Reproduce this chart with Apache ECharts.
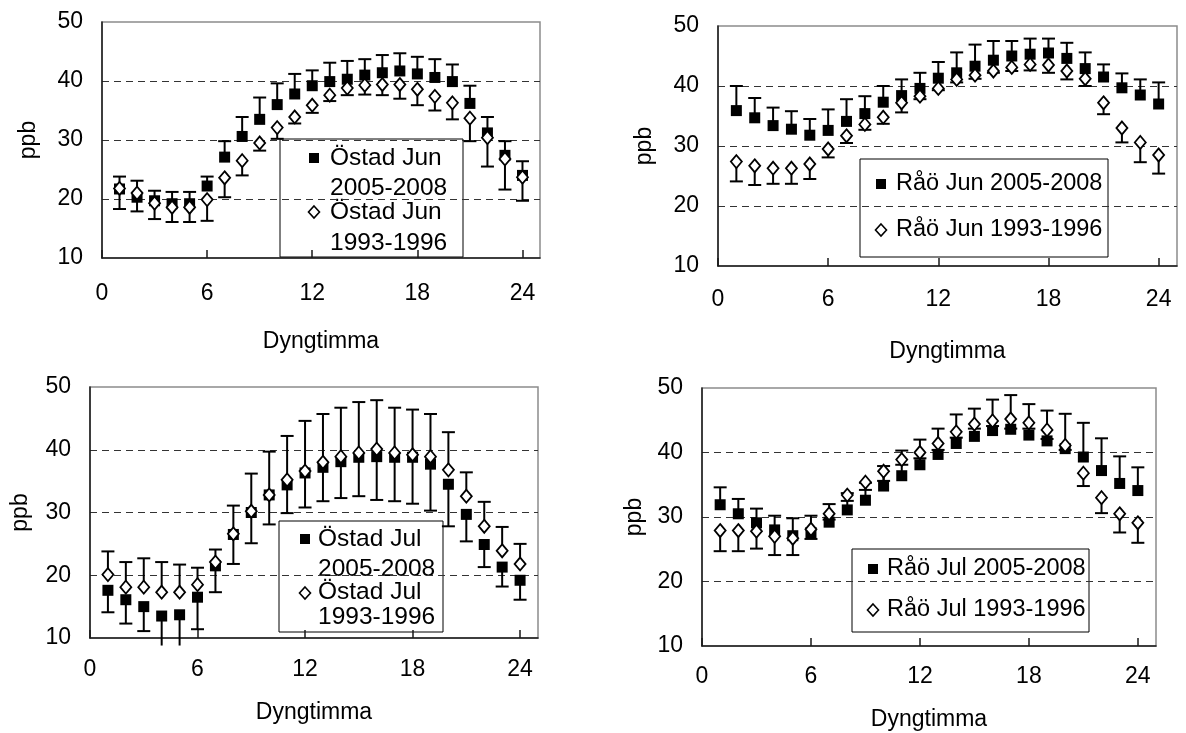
<!DOCTYPE html>
<html>
<head>
<meta charset="utf-8">
<script src="https://cdn.jsdelivr.net/npm/echarts@6/dist/echarts.min.js"></script>
<style>
  html, body { margin: 0; padding: 0; background: #fff; }
  #chart { width: 1186px; height: 733px; }
</style>
</head>
<body>
<div id="chart"></div>
<script>
// Hour of day (1..24) and axis tick labels
const hours = [1, 2, 3, 4, 5, 6, 7, 8, 9, 10, 11, 12, 13, 14, 15, 16, 17, 18, 19, 20, 21, 22, 23, 24];
const xTicks = [0, 6, 12, 18, 24];
const yTicks = [10, 20, 30, 40, 50];

// Östad, June: hourly means (ppb) and error-bar ends
const ostadJun0508 = [21.7, 20.3, 19.7, 19.2, 19.2, 22.2, 27.1, 30.6, 33.5, 36.0, 37.8, 39.2, 39.9, 40.3, 41.0, 41.4, 41.7, 41.2, 40.6, 39.9, 36.2, 31.2, 27.4, 24.0];
const ostadJun0508Hi = [23.8, 23.1, 21.4, 21.2, 21.2, 23.8, 29.8, 33.9, 37.2, 39.6, 41.2, 41.8, 43.1, 43.4, 43.7, 44.4, 44.7, 44.1, 43.7, 42.8, 39.2, 33.9, 29.8, 26.4];
const ostadJun9396 = [21.8, 21.0, 19.3, 18.6, 18.6, 19.9, 23.6, 26.5, 29.5, 32.1, 33.9, 35.9, 37.6, 38.8, 39.3, 39.4, 39.4, 38.6, 37.4, 36.3, 33.7, 30.4, 26.8, 23.7];
const ostadJun9396Lo = [18.3, 17.9, 16.6, 16.1, 16.1, 16.3, 20.3, 24.0, 28.2, 30.2, 32.8, 34.6, 36.6, 37.6, 37.7, 37.6, 37.0, 35.9, 35.0, 33.5, 29.8, 25.5, 21.6, 19.7];

// Råö, June
const raoJun0508 = [35.9, 34.7, 33.4, 32.8, 31.8, 32.6, 34.1, 35.4, 37.3, 38.4, 39.6, 41.3, 42.2, 43.3, 44.3, 45.0, 45.3, 45.5, 44.6, 42.9, 41.5, 39.7, 38.5, 37.0];
const raoJun0508Hi = [40.0, 38.0, 36.4, 35.8, 34.5, 36.1, 37.8, 38.3, 40.0, 41.1, 42.2, 44.0, 45.6, 46.9, 47.5, 47.5, 47.9, 47.9, 47.2, 45.6, 43.6, 42.1, 41.1, 40.6];
const raoJun9396 = [27.4, 26.7, 26.3, 26.3, 27.0, 29.5, 31.7, 33.6, 34.8, 37.2, 38.3, 39.6, 41.1, 41.8, 42.5, 43.1, 43.6, 43.5, 42.5, 41.2, 37.2, 33.0, 30.6, 28.5];
const raoJun9396Lo = [24.1, 23.5, 23.7, 23.7, 24.5, 28.1, 30.5, 32.7, 33.7, 35.6, 37.8, 39.3, 40.6, 41.2, 42.2, 42.5, 42.6, 42.2, 41.1, 40.0, 35.3, 30.6, 27.3, 25.4];

// Östad, July
const ostadJul0508 = [17.6, 16.1, 15.0, 13.5, 13.7, 16.5, 21.5, 26.5, 30.0, 32.8, 34.4, 36.3, 37.2, 38.1, 38.8, 38.9, 38.8, 38.8, 37.7, 34.5, 29.7, 24.9, 21.3, 19.2];
const ostadJul0508Lo = [14.1, 12.3, 11.1, 8.8, 8.8, 11.4, 17.3, 21.8, 25.1, 28.1, 29.9, 30.8, 31.8, 32.3, 32.6, 32.0, 31.8, 31.4, 30.3, 27.8, 25.4, 21.3, 18.2, 16.1];
const ostadJul9396 = [20.1, 18.1, 18.1, 17.3, 17.3, 18.5, 22.1, 26.6, 30.2, 32.8, 35.2, 36.6, 38.0, 38.9, 39.5, 40.1, 39.5, 39.2, 38.9, 36.8, 32.6, 27.8, 23.9, 21.8];
const ostadJul9396Hi = [23.8, 22.1, 22.7, 22.1, 21.7, 21.2, 24.1, 31.1, 36.2, 39.7, 42.2, 44.6, 45.7, 46.7, 47.6, 47.9, 46.7, 46.4, 45.7, 42.8, 36.4, 31.7, 27.7, 25.0];

// Råö, July
const raoJul0508 = [31.9, 30.5, 29.1, 28.0, 27.1, 27.6, 29.2, 31.1, 32.6, 34.8, 36.4, 38.1, 39.7, 41.4, 42.5, 43.4, 43.6, 42.7, 41.8, 40.6, 39.3, 37.2, 35.2, 34.1];
const raoJul0508Hi = [34.6, 32.8, 31.3, 30.2, 29.8, 30.2, 32.0, 33.7, 35.3, 37.9, 40.3, 42.0, 43.7, 45.9, 46.8, 48.2, 48.9, 47.5, 46.5, 46.0, 44.6, 42.2, 39.4, 37.7];
const raoJul9396 = [27.9, 27.9, 27.8, 27.0, 26.7, 28.1, 30.5, 33.4, 35.4, 37.1, 38.9, 40.0, 41.4, 43.2, 44.4, 44.9, 45.2, 44.6, 43.5, 41.1, 36.8, 33.0, 30.5, 29.1];
const raoJul9396Lo = [24.7, 24.7, 25.1, 24.1, 24.1, 26.6, 29.6, 32.5, 34.2, 35.6, 38.1, 39.1, 40.4, 42.3, 43.7, 44.1, 43.7, 43.7, 42.1, 40.4, 34.8, 30.6, 27.6, 26.0];

const FONT = '"Liberation Sans", Arial, sans-serif';
const AXIS_FONT = 23;

// One entry per small chart: plot rectangle, series and legend box
const panels = [
  {
    grid: { left: 102, top: 22, width: 438, height: 236 },
    xLabelMargin: 24, xNameGap: 72, yNameGap: 62,
    squares: { name: 'Östad Jun 2005-2008', values: ostadJun0508, ends: ostadJun0508Hi },
    diamonds: { name: 'Östad Jun 1993-1996', values: ostadJun9396, ends: ostadJun9396Lo },
    legend: {
      box: [280, 139, 183, 118], fontSize: 24.5, markerX: 314, textX: 330,
      rows: [
        { marker: 'square', y: 158, lines: [['Östad Jun', 158], ['2005-2008', 188]] },
        { marker: 'diamond', y: 212, lines: [['Östad Jun', 212], ['1993-1996', 243]] }
      ]
    }
  },
  {
    grid: { left: 718, top: 26, width: 459, height: 240 },
    xLabelMargin: 22, xNameGap: 74, yNameGap: 62,
    squares: { name: 'Råö Jun 2005-2008', values: raoJun0508, ends: raoJun0508Hi },
    diamonds: { name: 'Råö Jun 1993-1996', values: raoJun9396, ends: raoJun9396Lo },
    legend: {
      box: [860, 159, 248, 98], fontSize: 23.5, markerX: 881, textX: 896,
      rows: [
        { marker: 'square', y: 184, lines: [['Råö Jun 2005-2008', 184]] },
        { marker: 'diamond', y: 230, lines: [['Råö Jun 1993-1996', 230]] }
      ]
    }
  },
  {
    grid: { left: 90, top: 387, width: 448, height: 251 },
    xLabelMargin: 20, xNameGap: 63, yNameGap: 58,
    squares: { name: 'Östad Jul 2005-2008', values: ostadJul0508, ends: ostadJul0508Lo },
    diamonds: { name: 'Östad Jul 1993-1996', values: ostadJul9396, ends: ostadJul9396Hi },
    legend: {
      box: [279, 521, 164, 111], fontSize: 24.5, markerX: 305, textX: 318,
      rows: [
        { marker: 'square', y: 539, lines: [['Östad Jul', 539], ['2005-2008', 569]] },
        { marker: 'diamond', y: 593, lines: [['Östad Jul', 592], ['1993-1996', 617]] }
      ]
    }
  },
  {
    grid: { left: 702, top: 388, width: 454, height: 258 },
    xLabelMargin: 19, xNameGap: 62, yNameGap: 56,
    squares: { name: 'Råö Jul 2005-2008', values: raoJul0508, ends: raoJul0508Hi },
    diamonds: { name: 'Råö Jul 1993-1996', values: raoJul9396, ends: raoJul9396Lo },
    legend: {
      box: [852, 549, 237, 83], fontSize: 23.5, markerX: 873, textX: 887,
      rows: [
        { marker: 'square', y: 569, lines: [['Råö Jul 2005-2008', 569]] },
        { marker: 'diamond', y: 610, lines: [['Råö Jul 1993-1996', 610]] }
      ]
    }
  }
];

// Vertical error bar from the mean to the bar end, capped when the end is inside the plot
function renderErrorBar(params, api) {
  const x = api.value(0);
  const mean = api.coord([x, api.value(1)]);
  const end = api.coord([x, api.value(2)]);
  const cs = params.coordSys;
  const capHalf = 6.5;
  const inside = end[1] >= cs.y - 0.5 && end[1] <= cs.y + cs.height + 0.5;
  const style = { stroke: '#000', lineWidth: 2 };
  const children = [
    { type: 'line', shape: { x1: mean[0], y1: mean[1], x2: end[0], y2: end[1] }, style: style }
  ];
  if (inside) {
    children.push({ type: 'line', shape: { x1: end[0] - capHalf, y1: end[1], x2: end[0] + capHalf, y2: end[1] }, style: style });
  }
  return { type: 'group', children: children };
}

const option = {
  animation: false,
  backgroundColor: '#fff',
  textStyle: { fontFamily: FONT },
  grid: [], xAxis: [], yAxis: [], series: [], graphic: []
};

panels.forEach(function (p, i) {
  option.grid.push(Object.assign({
    show: true, borderColor: '#8c8c8c', borderWidth: 1.5, backgroundColor: 'transparent'
  }, p.grid));

  option.xAxis.push({
    type: 'value', gridIndex: i, min: 0, max: 25, interval: 6,
    name: 'Dyngtimma', nameLocation: 'middle', nameGap: p.xNameGap,
    nameTextStyle: { fontSize: AXIS_FONT, color: '#000', fontFamily: FONT },
    axisLine: { show: true, onZero: false, lineStyle: { color: '#1a1a1a', width: 1.5 } },
    axisTick: { show: true, inside: true, length: 8, customValues: xTicks, lineStyle: { color: '#1a1a1a', width: 1.5 } },
    axisLabel: { customValues: xTicks, margin: p.xLabelMargin, fontSize: AXIS_FONT, color: '#000', fontFamily: FONT },
    splitLine: { show: false }
  });

  option.yAxis.push({
    type: 'value', gridIndex: i, min: 10, max: 50, interval: 10,
    name: 'ppb', nameLocation: 'middle', nameGap: p.yNameGap, nameRotate: 90,
    nameTextStyle: { fontSize: AXIS_FONT, color: '#000', fontFamily: FONT },
    axisLine: { show: true, onZero: false, lineStyle: { color: '#1a1a1a', width: 1.5 } },
    axisTick: { show: false },
    axisLabel: { customValues: yTicks, margin: 19, fontSize: AXIS_FONT, color: '#000', fontFamily: FONT },
    splitLine: {
      show: true, showMinLine: false, showMaxLine: false,
      lineStyle: { color: '#333', width: 1, type: [7, 5] }
    }
  });

  [p.squares, p.diamonds].forEach(function (s) {
    option.series.push({
      type: 'custom', name: s.name + ' error', xAxisIndex: i, yAxisIndex: i,
      renderItem: renderErrorBar, clip: false, z: 1,
      encode: { x: 0, y: 1 },
      data: hours.map(function (h, k) { return [h, s.values[k], s.ends[k]]; }),
      silent: true
    });
  });

  option.series.push({
    type: 'scatter', name: p.squares.name, xAxisIndex: i, yAxisIndex: i,
    symbol: 'rect', symbolSize: 11, z: 2,
    itemStyle: { color: '#000', opacity: 1 },
    data: hours.map(function (h, k) { return [h, p.squares.values[k]]; })
  });
  option.series.push({
    type: 'scatter', name: p.diamonds.name, xAxisIndex: i, yAxisIndex: i,
    symbol: 'diamond', symbolSize: [11, 13], z: 3,
    itemStyle: { color: '#fff', borderColor: '#000', borderWidth: 1.8, opacity: 1 },
    data: hours.map(function (h, k) { return [h, p.diamonds.values[k]]; })
  });

  // Legend box drawn over the plot
  const L = p.legend;
  const children = [{
    type: 'rect', shape: { x: L.box[0], y: L.box[1], width: L.box[2], height: L.box[3] },
    style: { fill: '#fff', stroke: '#000', lineWidth: 1 }
  }];
  L.rows.forEach(function (r) {
    if (r.marker === 'square') {
      children.push({ type: 'rect', shape: { x: L.markerX - 5, y: r.y - 5, width: 10, height: 10 }, style: { fill: '#000' } });
    } else {
      children.push({
        type: 'polygon',
        shape: { points: [[L.markerX, r.y - 6], [L.markerX + 5.5, r.y], [L.markerX, r.y + 6], [L.markerX - 5.5, r.y]] },
        style: { fill: '#fff', stroke: '#000', lineWidth: 1.6 }
      });
    }
    r.lines.forEach(function (ln) {
      children.push({
        type: 'text', x: L.textX, y: ln[1],
        style: { text: ln[0], fontSize: L.fontSize, fontFamily: FONT, fill: '#000', align: 'left', verticalAlign: 'middle' }
      });
    });
  });
  option.graphic.push({ type: 'group', z: 100, children: children });
});

const chart = echarts.init(document.getElementById('chart'), null, { renderer: 'canvas' });
chart.setOption(option);
</script>
</body>
</html>
